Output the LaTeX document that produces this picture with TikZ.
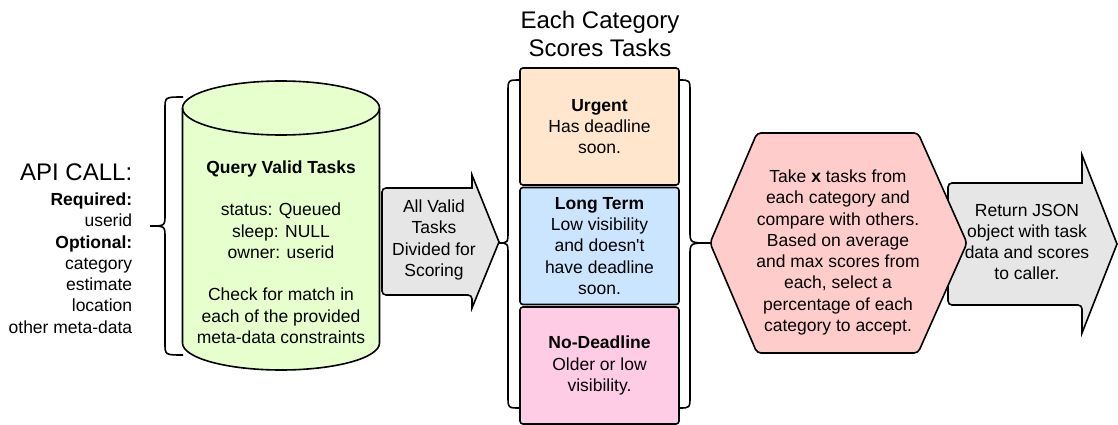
\documentclass[tikz,border=0pt]{standalone}
\usepackage{fontspec}
\setmainfont{Liberation Sans}
\definecolor{querygreen}{HTML}{E6FFCC}
\definecolor{urgentorange}{HTML}{FFE6CC}
\definecolor{longblue}{HTML}{CCE5FF}
\definecolor{nodeadpink}{HTML}{FFCCE6}
\definecolor{selectred}{HTML}{FFCCCC}
\definecolor{arrowgray}{HTML}{E6E6E6}

\begin{document}
\begin{tikzpicture}[x=1pt, y=1pt, line width=1.6pt,
	txt/.style = {font=\fontsize{17.5}{21.25}\selectfont, align=center, inner sep=0pt},
	big/.style = {font=\fontsize{24}{28}\selectfont, align=center, inner sep=0pt},
	catbox/.style = {draw, rounded corners=3pt, minimum width=159pt, minimum height=117pt, txt}]
	\useasboundingbox (0,0) rectangle (1118,-425);

	% the query cylinder
	\draw[fill=querygreen] (182.5,-108) -- (182.5,-343)
		arc[start angle=180, end angle=360, x radius=98.5, y radius=27] -- (379.5,-108)
		arc[start angle=0, end angle=180, x radius=98.5, y radius=27] -- cycle;
	\draw (182.5,-108) arc[start angle=180, end angle=360, x radius=98.5, y radius=27];

	% block arrows and the hexagon
	\draw[fill=arrowgray] {[rounded corners=4pt] (472,-188) -- (382,-188) -- (382,-295) -- (472,-295)}
		-- (472,-308) -- (499,-242) -- (472,-175) -- cycle;
	\draw[fill=arrowgray] {[rounded corners=4pt] (1082,-183) -- (948,-183) -- (948,-305) -- (1082,-305)}
		-- (1082,-333) -- (1117,-244) -- (1082,-155) -- cycle;
	\draw[fill=selectred, rounded corners=4pt] (710,-243) -- (757,-133) -- (918,-133)
		-- (967,-243) -- (918,-353) -- (757,-353) -- cycle;

	% curly braces
	\foreach \xe/\xv/\xt/\yt/\ym/\yb in {183/165/150/-97/-226/-355, 520/508/498/-80/-243/-408, 679/690/710/-80/-243/-408} {
		\draw (\xe,\yt) .. controls (\xv,\yt) .. (\xv,\yt-12) -- (\xv,\ym+12)
			.. controls (\xv,\ym) .. (\xt,\ym) .. controls (\xv,\ym) .. (\xv,\ym-12)
			-- (\xv,\yb+12) .. controls (\xv,\yb) .. (\xe,\yb);
	}

	% category boxes
	\foreach \nm/\yc/\col/\head/\body in {urgent/-126.5/urgentorange/Urgent/{Has deadline\\soon.},
		longterm/-246/longblue/Long Term/{Low visibility\\and doesn\textquotesingle t\\have deadline\\soon.},
		nodeadline/-365.5/nodeadpink/No-Deadline/{Older or low\\visibility.}} {
		\node (\nm) [catbox, fill=\col] at (599.5,\yc) {\textbf{\head}\\\body};
	}

	\node (api) [big, anchor=east] at (133,-172) {API CALL:};
	\node (apiopts) [txt, align=right, anchor=east] at (133,-263)
		{\textbf{Required:}\\userid\\\textbf{Optional:}\\category\\estimate\\location\\other meta-data};
	\node (query) [txt] at (281,-252) {\textbf{Query Valid Tasks}\\[21.25pt]status: Queued\\sleep: NULL\\owner: userid\\[21.25pt]Check for match in\\each of the provided\\meta-data constraints};
	\node (valid) [txt] at (434,-240) {All Valid\\Tasks\\Divided for\\Scoring};
	\node (title) [big] at (600,-34) {Each Category\\Scores Tasks};
	\node (select) [txt] at (838,-252.5) {Take \textbf{x} tasks from\\each category and\\compare with others.\\Based on average\\and max scores from\\each, select a\\percentage of each\\category to accept.};
	\node (ret) [txt] at (1027,-242) {Return JSON\\object with task\\data and scores\\to caller.};
\end{tikzpicture}
\end{document}
